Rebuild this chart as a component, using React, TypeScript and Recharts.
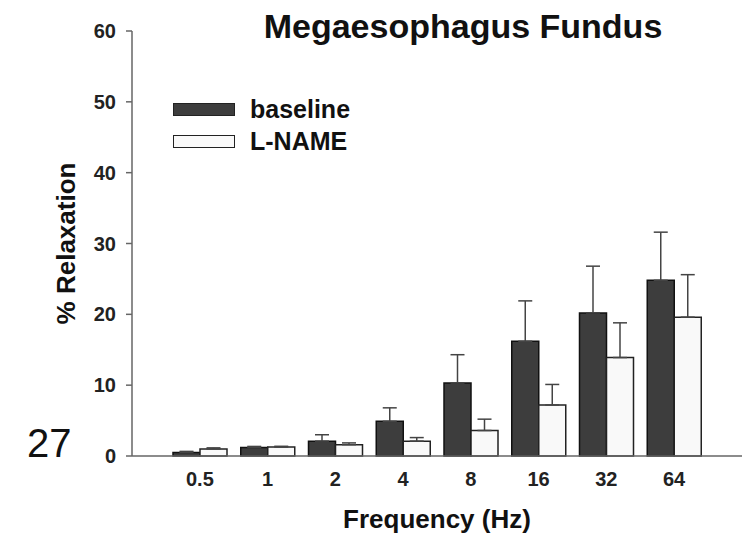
import {
  BarChart,
  Bar,
  XAxis,
  YAxis,
  ErrorBar,
} from "recharts";

const frequencies = ["0.5", "1", "2", "4", "8", "16", "32", "64"];
const baselineMeans = [0.5, 1.2, 2.1, 4.9, 10.3, 16.2, 20.2, 24.8];
const baselineSem = [0.15, 0.15, 0.9, 1.9, 4.0, 5.7, 6.6, 6.8];
const lnameMeans = [1.0, 1.27, 1.6, 2.1, 3.6, 7.2, 13.9, 19.6];
const lnameSem = [0.15, 0.1, 0.25, 0.5, 1.6, 2.9, 4.9, 6.0];
const yTicks = [0, 10, 20, 30, 40, 50, 60];
const seriesNames = ["baseline", "L-NAME"];

const data = frequencies.map((f, i) => ({
  freq: f,
  baseline: baselineMeans[i],
  baselineErr: [0, baselineSem[i]],
  lname: lnameMeans[i],
  lnameErr: [0, lnameSem[i]],
}));

const FONT = "'Liberation Sans', Arial, sans-serif";
const AXIS = "#666";
const tickStyle = { fontFamily: FONT, fontWeight: 700, fontSize: 20, fill: "#222" };

function LegendBox() {
  const row = (label: string, fill: string) => (
    <div key={label} style={{ display: "flex", alignItems: "center", height: 32 }}>
      <div
        style={{
          width: 60,
          height: 11,
          background: fill,
          border: "1.5px solid #222",
          marginRight: 15,
        }}
      />
      <span style={{ fontFamily: FONT, fontWeight: 700, fontSize: 25, color: "#111" }}>
        {label}
      </span>
    </div>
  );
  return (
    <div style={{ position: "absolute", top: 93, left: 173 }}>
      {row(seriesNames[0], "#3d3d3d")}
      {row(seriesNames[1], "#f9f9f9")}
    </div>
  );
}

export default function App() {
  return (
    <div style={{ position: "absolute", top: 0, left: 0, width: 752, height: 542, background: "#fff" }}>
      <BarChart
        width={752}
        height={542}
        data={data}
        margin={{ top: 31, right: 10, bottom: 0, left: 0 }}
        barGap={0}
        barSize={27}
      >
        <XAxis
          dataKey="freq"
          height={86}
          padding={{ left: 34, right: 34 }}
          axisLine={{ stroke: AXIS, strokeWidth: 1.5 }}
          tickLine={false}
          tickSize={0}
          tickMargin={16}
          fontSize={20}
          fontWeight={700}
          fontFamily={FONT}
          tick={{ ...tickStyle, style: tickStyle }}
          label={{
            value: "Frequency (Hz)",
            position: "insideBottom",
            offset: 14,
            style: { fontFamily: FONT, fontWeight: 700, fontSize: 26, fill: "#111" },
          }}
        />
        <YAxis
          width={132}
          domain={[0, 60]}
          ticks={yTicks}
          interval={0}
          axisLine={{ stroke: AXIS, strokeWidth: 1.5 }}
          tickLine={{ stroke: AXIS, strokeWidth: 1.5 }}
          tickSize={6}
          tickMargin={10}
          fontSize={20}
          fontWeight={700}
          fontFamily={FONT}
          tick={{ ...tickStyle, style: tickStyle }}
          label={{
            value: "% Relaxation",
            angle: -90,
            position: "center",
            style: { fontFamily: FONT, fontWeight: 700, fontSize: 26, fill: "#111", textAnchor: "middle" },
          }}
        />
        <Bar
          dataKey="baseline"
          name={seriesNames[0]}
          fill="#3d3d3d"
          stroke="#111"
          strokeWidth={1.5}
          isAnimationActive={false}
        >
          <ErrorBar dataKey="baselineErr" direction="y" width={7} stroke="#444" strokeWidth={1.5} />
        </Bar>
        <Bar
          dataKey="lname"
          name={seriesNames[1]}
          fill="#f9f9f9"
          stroke="#222"
          strokeWidth={1.5}
          isAnimationActive={false}
        >
          <ErrorBar dataKey="lnameErr" direction="y" width={7} stroke="#444" strokeWidth={1.5} />
        </Bar>
      </BarChart>
      <LegendBox />
      <svg
        width={752}
        height={542}
        style={{ position: "absolute", top: 0, left: 0, pointerEvents: "none" }}
      >
        <text
          x={463}
          y={38}
          textAnchor="middle"
          style={{ fontFamily: FONT, fontWeight: 700, fontSize: 34, fill: "#111" }}
        >
          Megaesophagus Fundus
        </text>
        <text x={27} y={457} style={{ fontFamily: FONT, fontSize: 40, fill: "#111" }}>
          27
        </text>
      </svg>
    </div>
  );
}
